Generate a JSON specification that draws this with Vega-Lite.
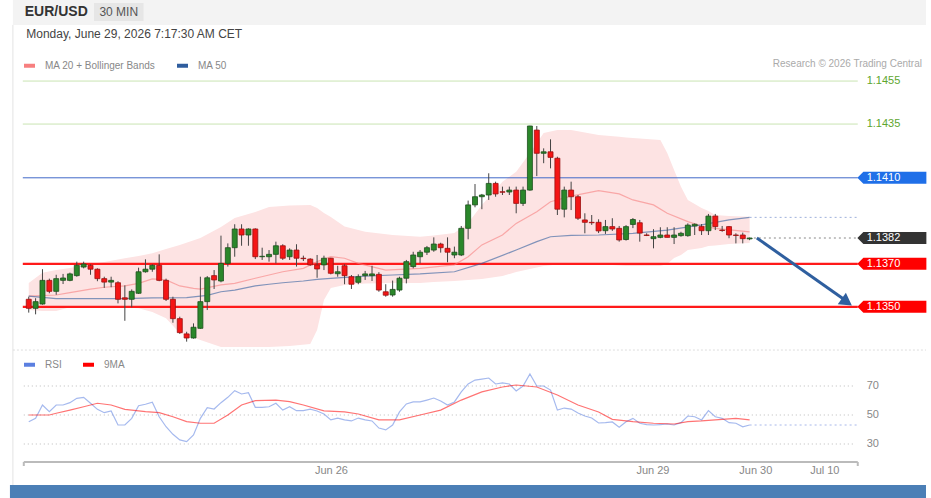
{
"$schema": "https://vega.github.io/schema/vega-lite/v6.json",
"width": 931, "height": 498, "padding": 0, "autosize": {"type": "none"},
"background": "#ffffff",
"config": {"view": {"stroke": null}, "font": "Liberation Sans", "axis": {"disable": true}, "legend": {"padding": 0}},
"datasets": {
"candles": [
{"i":0,"o":1.13535,"h":1.13547,"l":1.13473,"c":1.13493},
{"i":1,"o":1.13493,"h":1.13540,"l":1.13465,"c":1.13524},
{"i":2,"o":1.13513,"h":1.13675,"l":1.13510,"c":1.13623},
{"i":3,"o":1.13623,"h":1.13631,"l":1.13563,"c":1.13572},
{"i":4,"o":1.13572,"h":1.13649,"l":1.13556,"c":1.13631},
{"i":5,"o":1.13623,"h":1.13653,"l":1.13606,"c":1.13634},
{"i":6,"o":1.13623,"h":1.13659,"l":1.13619,"c":1.13653},
{"i":7,"o":1.13645,"h":1.13710,"l":1.13640,"c":1.13693},
{"i":8,"o":1.13685,"h":1.13710,"l":1.13679,"c":1.13699},
{"i":9,"o":1.13693,"h":1.13698,"l":1.13649,"c":1.13675},
{"i":10,"o":1.13675,"h":1.13679,"l":1.13619,"c":1.13631},
{"i":11,"o":1.13631,"h":1.13640,"l":1.13588,"c":1.13615},
{"i":12,"o":1.13615,"h":1.13640,"l":1.13591,"c":1.13623},
{"i":13,"o":1.13612,"h":1.13619,"l":1.13516,"c":1.13535},
{"i":14,"o":1.13542,"h":1.13600,"l":1.13435,"c":1.13535},
{"i":15,"o":1.13535,"h":1.13581,"l":1.13498,"c":1.13572},
{"i":16,"o":1.13563,"h":1.13682,"l":1.13560,"c":1.13663},
{"i":17,"o":1.13663,"h":1.13721,"l":1.13659,"c":1.13675},
{"i":18,"o":1.13675,"h":1.13698,"l":1.13663,"c":1.13693},
{"i":19,"o":1.13693,"h":1.13744,"l":1.13619,"c":1.13623},
{"i":20,"o":1.13623,"h":1.13631,"l":1.13527,"c":1.13535},
{"i":21,"o":1.13535,"h":1.13547,"l":1.13426,"c":1.13445},
{"i":22,"o":1.13445,"h":1.13454,"l":1.13374,"c":1.13380},
{"i":23,"o":1.13374,"h":1.13384,"l":1.13338,"c":1.13355},
{"i":24,"o":1.13355,"h":1.13423,"l":1.13352,"c":1.13405},
{"i":25,"o":1.13400,"h":1.13640,"l":1.13398,"c":1.13524},
{"i":26,"o":1.13524,"h":1.13643,"l":1.13485,"c":1.13635},
{"i":27,"o":1.13645,"h":1.13671,"l":1.13583,"c":1.13625},
{"i":28,"o":1.13620,"h":1.13831,"l":1.13614,"c":1.13702},
{"i":29,"o":1.13702,"h":1.13795,"l":1.13687,"c":1.13775},
{"i":30,"o":1.13775,"h":1.13884,"l":1.13733,"c":1.13862},
{"i":31,"o":1.13862,"h":1.13884,"l":1.13784,"c":1.13834},
{"i":32,"o":1.13834,"h":1.13865,"l":1.13784,"c":1.13862},
{"i":33,"o":1.13862,"h":1.13865,"l":1.13722,"c":1.13733},
{"i":34,"o":1.13733,"h":1.13775,"l":1.13718,"c":1.13735},
{"i":35,"o":1.13733,"h":1.13764,"l":1.13710,"c":1.13744},
{"i":36,"o":1.13744,"h":1.13803,"l":1.13702,"c":1.13784},
{"i":37,"o":1.13784,"h":1.13791,"l":1.13718,"c":1.13726},
{"i":38,"o":1.13733,"h":1.13772,"l":1.13718,"c":1.13764},
{"i":39,"o":1.13764,"h":1.13791,"l":1.13687,"c":1.13726},
{"i":40,"o":1.13726,"h":1.13738,"l":1.13713,"c":1.13724},
{"i":41,"o":1.13722,"h":1.13726,"l":1.13691,"c":1.13695},
{"i":42,"o":1.13695,"h":1.13741,"l":1.13635,"c":1.13676},
{"i":43,"o":1.13695,"h":1.13738,"l":1.13671,"c":1.13726},
{"i":44,"o":1.13726,"h":1.13728,"l":1.13651,"c":1.13656},
{"i":45,"o":1.13654,"h":1.13691,"l":1.13640,"c":1.13663},
{"i":46,"o":1.13691,"h":1.13698,"l":1.13605,"c":1.13645},
{"i":47,"o":1.13640,"h":1.13648,"l":1.13583,"c":1.13605},
{"i":48,"o":1.13614,"h":1.13651,"l":1.13605,"c":1.13640},
{"i":49,"o":1.13645,"h":1.13667,"l":1.13625,"c":1.13653},
{"i":50,"o":1.13645,"h":1.13691,"l":1.13620,"c":1.13653},
{"i":51,"o":1.13651,"h":1.13661,"l":1.13570,"c":1.13578},
{"i":52,"o":1.13570,"h":1.13605,"l":1.13547,"c":1.13554},
{"i":53,"o":1.13555,"h":1.13622,"l":1.13547,"c":1.13581},
{"i":54,"o":1.13578,"h":1.13640,"l":1.13570,"c":1.13633},
{"i":55,"o":1.13633,"h":1.13718,"l":1.13609,"c":1.13710},
{"i":56,"o":1.13687,"h":1.13756,"l":1.13679,"c":1.13741},
{"i":57,"o":1.13733,"h":1.13764,"l":1.13702,"c":1.13754},
{"i":58,"o":1.13754,"h":1.13783,"l":1.13741,"c":1.13775},
{"i":59,"o":1.13764,"h":1.13823,"l":1.13756,"c":1.13792},
{"i":60,"o":1.13792,"h":1.13798,"l":1.13752,"c":1.13775},
{"i":61,"o":1.13772,"h":1.13823,"l":1.13707,"c":1.13754},
{"i":62,"o":1.13741,"h":1.13780,"l":1.13726,"c":1.13754},
{"i":63,"o":1.13741,"h":1.13876,"l":1.13736,"c":1.13865},
{"i":64,"o":1.13865,"h":1.13994,"l":1.13814,"c":1.13974},
{"i":65,"o":1.13974,"h":1.14071,"l":1.13963,"c":1.14012},
{"i":66,"o":1.14012,"h":1.14025,"l":1.13954,"c":1.14020},
{"i":67,"o":1.14020,"h":1.14121,"l":1.13997,"c":1.14074},
{"i":68,"o":1.14074,"h":1.14082,"l":1.14012,"c":1.14025},
{"i":69,"o":1.14035,"h":1.14059,"l":1.14020,"c":1.14033},
{"i":70,"o":1.14034,"h":1.14059,"l":1.14020,"c":1.14043},
{"i":71,"o":1.14043,"h":1.14059,"l":1.13935,"c":1.13981},
{"i":72,"o":1.13981,"h":1.14059,"l":1.13969,"c":1.14043},
{"i":73,"o":1.14043,"h":1.14342,"l":1.14040,"c":1.14341},
{"i":74,"o":1.14322,"h":1.14341,"l":1.14108,"c":1.14214},
{"i":75,"o":1.14214,"h":1.14237,"l":1.14168,"c":1.14221},
{"i":76,"o":1.14221,"h":1.14279,"l":1.14144,"c":1.14195},
{"i":77,"o":1.14191,"h":1.14198,"l":1.13927,"c":1.13954},
{"i":78,"o":1.13954,"h":1.14059,"l":1.13916,"c":1.14043},
{"i":79,"o":1.14043,"h":1.14082,"l":1.13950,"c":1.14012},
{"i":80,"o":1.14012,"h":1.14020,"l":1.13904,"c":1.13912},
{"i":81,"o":1.13904,"h":1.13935,"l":1.13842,"c":1.13893},
{"i":82,"o":1.13893,"h":1.13927,"l":1.13881,"c":1.13891},
{"i":83,"o":1.13893,"h":1.13907,"l":1.13843,"c":1.13853},
{"i":84,"o":1.13854,"h":1.13904,"l":1.13839,"c":1.13873},
{"i":85,"o":1.13873,"h":1.13912,"l":1.13853,"c":1.13862},
{"i":86,"o":1.13865,"h":1.13876,"l":1.13803,"c":1.13811},
{"i":87,"o":1.13813,"h":1.13880,"l":1.13808,"c":1.13873},
{"i":88,"o":1.13883,"h":1.13913,"l":1.13866,"c":1.13906},
{"i":89,"o":1.13891,"h":1.13904,"l":1.13803,"c":1.13843},
{"i":90,"o":1.13834,"h":1.13842,"l":1.13829,"c":1.13832},
{"i":91,"o":1.13817,"h":1.13861,"l":1.13772,"c":1.13826},
{"i":92,"o":1.13823,"h":1.13870,"l":1.13819,"c":1.13834},
{"i":93,"o":1.13834,"h":1.13870,"l":1.13823,"c":1.13823},
{"i":94,"o":1.13823,"h":1.13870,"l":1.13792,"c":1.13834},
{"i":95,"o":1.13831,"h":1.13849,"l":1.13826,"c":1.13842},
{"i":96,"o":1.13831,"h":1.13888,"l":1.13826,"c":1.13880},
{"i":97,"o":1.13876,"h":1.13888,"l":1.13834,"c":1.13884},
{"i":98,"o":1.13873,"h":1.13885,"l":1.13834,"c":1.13854},
{"i":99,"o":1.13854,"h":1.13932,"l":1.13834,"c":1.13922},
{"i":100,"o":1.13922,"h":1.13932,"l":1.13857,"c":1.13873},
{"i":101,"o":1.13857,"h":1.13876,"l":1.13849,"c":1.13855},
{"i":102,"o":1.13873,"h":1.13876,"l":1.13819,"c":1.13834},
{"i":103,"o":1.13834,"h":1.13842,"l":1.13795,"c":1.13832},
{"i":104,"o":1.13834,"h":1.13845,"l":1.13795,"c":1.13817},
{"i":105,"o":1.13816,"h":1.13822,"l":1.13810,"c":1.13820}
],
"band": [
{"i":0,"upper":1.13611,"lower":1.13485},
{"i":2,"upper":1.13659,"lower":1.13481},
{"i":4,"upper":1.13671,"lower":1.13481},
{"i":6,"upper":1.13680,"lower":1.13498},
{"i":9,"upper":1.13699,"lower":1.13499},
{"i":11,"upper":1.13708,"lower":1.13501},
{"i":14,"upper":1.13726,"lower":1.13497},
{"i":16,"upper":1.13736,"lower":1.13493},
{"i":18,"upper":1.13749,"lower":1.13476},
{"i":20,"upper":1.13769,"lower":1.13447},
{"i":22,"upper":1.13788,"lower":1.13377},
{"i":25,"upper":1.13820,"lower":1.13346},
{"i":28,"upper":1.13871,"lower":1.13313},
{"i":30,"upper":1.13913,"lower":1.13313},
{"i":33,"upper":1.13941,"lower":1.13313},
{"i":35,"upper":1.13964,"lower":1.13313},
{"i":38,"upper":1.13971,"lower":1.13318},
{"i":41,"upper":1.13974,"lower":1.13327},
{"i":42,"upper":1.13960,"lower":1.13392},
{"i":43,"upper":1.13936,"lower":1.13532},
{"i":44,"upper":1.13918,"lower":1.13588},
{"i":46,"upper":1.13873,"lower":1.13602},
{"i":49,"upper":1.13849,"lower":1.13608},
{"i":53,"upper":1.13834,"lower":1.13611},
{"i":57,"upper":1.13826,"lower":1.13611},
{"i":59,"upper":1.13832,"lower":1.13615},
{"i":62,"upper":1.13843,"lower":1.13620},
{"i":64,"upper":1.13890,"lower":1.13625},
{"i":66,"upper":1.13974,"lower":1.13629},
{"i":69,"upper":1.14082,"lower":1.13643},
{"i":71,"upper":1.14128,"lower":1.13662},
{"i":73,"upper":1.14215,"lower":1.13676},
{"i":75,"upper":1.14308,"lower":1.13690},
{"i":77,"upper":1.14322,"lower":1.13697},
{"i":79,"upper":1.14322,"lower":1.13704},
{"i":83,"upper":1.14299,"lower":1.13699},
{"i":86,"upper":1.14291,"lower":1.13692},
{"i":87,"upper":1.14287,"lower":1.13690},
{"i":92,"upper":1.14276,"lower":1.13690},
{"i":93,"upper":1.14215,"lower":1.13699},
{"i":94,"upper":1.14136,"lower":1.13727},
{"i":95,"upper":1.14059,"lower":1.13741},
{"i":96,"upper":1.13997,"lower":1.13764},
{"i":98,"upper":1.13960,"lower":1.13774},
{"i":99,"upper":1.13946,"lower":1.13783},
{"i":100,"upper":1.13927,"lower":1.13785},
{"i":102,"upper":1.13922,"lower":1.13792},
{"i":105,"upper":1.13919,"lower":1.13797}
],
"ma": [
{"i":0,"s":"MA 20 + Bollinger Bands","v":1.13550},
{"i":4,"s":"MA 20 + Bollinger Bands","v":1.13555},
{"i":6,"s":"MA 20 + Bollinger Bands","v":1.13566},
{"i":9,"s":"MA 20 + Bollinger Bands","v":1.13582},
{"i":11,"s":"MA 20 + Bollinger Bands","v":1.13591},
{"i":14,"s":"MA 20 + Bollinger Bands","v":1.13597},
{"i":16,"s":"MA 20 + Bollinger Bands","v":1.13609},
{"i":18,"s":"MA 20 + Bollinger Bands","v":1.13630},
{"i":20,"s":"MA 20 + Bollinger Bands","v":1.13625},
{"i":22,"s":"MA 20 + Bollinger Bands","v":1.13597},
{"i":24,"s":"MA 20 + Bollinger Bands","v":1.13586},
{"i":25,"s":"MA 20 + Bollinger Bands","v":1.13582},
{"i":28,"s":"MA 20 + Bollinger Bands","v":1.13602},
{"i":30,"s":"MA 20 + Bollinger Bands","v":1.13609},
{"i":33,"s":"MA 20 + Bollinger Bands","v":1.13633},
{"i":35,"s":"MA 20 + Bollinger Bands","v":1.13648},
{"i":37,"s":"MA 20 + Bollinger Bands","v":1.13663},
{"i":40,"s":"MA 20 + Bollinger Bands","v":1.13679},
{"i":42,"s":"MA 20 + Bollinger Bands","v":1.13710},
{"i":44,"s":"MA 20 + Bollinger Bands","v":1.13733},
{"i":46,"s":"MA 20 + Bollinger Bands","v":1.13726},
{"i":48,"s":"MA 20 + Bollinger Bands","v":1.13702},
{"i":52,"s":"MA 20 + Bollinger Bands","v":1.13671},
{"i":57,"s":"MA 20 + Bollinger Bands","v":1.13679},
{"i":62,"s":"MA 20 + Bollinger Bands","v":1.13695},
{"i":64,"s":"MA 20 + Bollinger Bands","v":1.13733},
{"i":66,"s":"MA 20 + Bollinger Bands","v":1.13788},
{"i":69,"s":"MA 20 + Bollinger Bands","v":1.13834},
{"i":71,"s":"MA 20 + Bollinger Bands","v":1.13888},
{"i":74,"s":"MA 20 + Bollinger Bands","v":1.13942},
{"i":76,"s":"MA 20 + Bollinger Bands","v":1.13989},
{"i":79,"s":"MA 20 + Bollinger Bands","v":1.14015},
{"i":83,"s":"MA 20 + Bollinger Bands","v":1.14040},
{"i":86,"s":"MA 20 + Bollinger Bands","v":1.14025},
{"i":88,"s":"MA 20 + Bollinger Bands","v":1.13997},
{"i":91,"s":"MA 20 + Bollinger Bands","v":1.13974},
{"i":93,"s":"MA 20 + Bollinger Bands","v":1.13935},
{"i":96,"s":"MA 20 + Bollinger Bands","v":1.13896},
{"i":98,"s":"MA 20 + Bollinger Bands","v":1.13876},
{"i":100,"s":"MA 20 + Bollinger Bands","v":1.13865},
{"i":105,"s":"MA 20 + Bollinger Bands","v":1.13849},
{"i":0,"s":"MA 50","v":1.13550},
{"i":4,"s":"MA 50","v":1.13538},
{"i":14,"s":"MA 50","v":1.13538},
{"i":18,"s":"MA 50","v":1.13542},
{"i":23,"s":"MA 50","v":1.13543},
{"i":26,"s":"MA 50","v":1.13553},
{"i":28,"s":"MA 50","v":1.13570},
{"i":30,"s":"MA 50","v":1.13578},
{"i":33,"s":"MA 50","v":1.13597},
{"i":35,"s":"MA 50","v":1.13605},
{"i":37,"s":"MA 50","v":1.13612},
{"i":40,"s":"MA 50","v":1.13620},
{"i":42,"s":"MA 50","v":1.13628},
{"i":45,"s":"MA 50","v":1.13635},
{"i":49,"s":"MA 50","v":1.13643},
{"i":53,"s":"MA 50","v":1.13648},
{"i":57,"s":"MA 50","v":1.13653},
{"i":62,"s":"MA 50","v":1.13663},
{"i":66,"s":"MA 50","v":1.13702},
{"i":71,"s":"MA 50","v":1.13764},
{"i":74,"s":"MA 50","v":1.13803},
{"i":76,"s":"MA 50","v":1.13826},
{"i":79,"s":"MA 50","v":1.13832},
{"i":83,"s":"MA 50","v":1.13834},
{"i":88,"s":"MA 50","v":1.13842},
{"i":93,"s":"MA 50","v":1.13857},
{"i":98,"s":"MA 50","v":1.13881},
{"i":102,"s":"MA 50","v":1.13904},
{"i":105,"s":"MA 50","v":1.13916}
],
"levels": [
{"level":1.1455,"kind":"resistance"},
{"level":1.1435,"kind":"resistance"},
{"level":1.1410,"kind":"pivot"},
{"level":1.1382,"kind":"last"},
{"level":1.1370,"kind":"support"},
{"level":1.1350,"kind":"support"}
],
"rsi": [
{"i":0,"s":"RSI","v":45.4},{"i":1,"s":"RSI","v":47.7},{"i":2,"s":"RSI","v":56.9},{"i":3,"s":"RSI","v":52.3},
{"i":4,"s":"RSI","v":56.9},{"i":5,"s":"RSI","v":56.9},{"i":6,"s":"RSI","v":58.5},{"i":7,"s":"RSI","v":61.5},
{"i":8,"s":"RSI","v":62.2},{"i":9,"s":"RSI","v":58.1},{"i":10,"s":"RSI","v":53.9},{"i":11,"s":"RSI","v":51.6},
{"i":12,"s":"RSI","v":52.8},{"i":13,"s":"RSI","v":43.1},{"i":14,"s":"RSI","v":43.1},{"i":15,"s":"RSI","v":47.7},
{"i":16,"s":"RSI","v":56.4},{"i":17,"s":"RSI","v":57.4},{"i":18,"s":"RSI","v":58.8},{"i":19,"s":"RSI","v":48.8},
{"i":20,"s":"RSI","v":41.9},{"i":21,"s":"RSI","v":36.7},{"i":22,"s":"RSI","v":32.8},{"i":23,"s":"RSI","v":31.6},
{"i":24,"s":"RSI","v":36.2},{"i":25,"s":"RSI","v":47.7},{"i":26,"s":"RSI","v":55.0},{"i":27,"s":"RSI","v":54.1},
{"i":28,"s":"RSI","v":58.5},{"i":29,"s":"RSI","v":62.2},{"i":30,"s":"RSI","v":66.8},{"i":31,"s":"RSI","v":64.5},
{"i":32,"s":"RSI","v":65.4},{"i":33,"s":"RSI","v":55.3},{"i":34,"s":"RSI","v":55.3},{"i":35,"s":"RSI","v":55.7},
{"i":36,"s":"RSI","v":58.1},{"i":37,"s":"RSI","v":53.4},{"i":38,"s":"RSI","v":55.7},{"i":39,"s":"RSI","v":53.0},
{"i":40,"s":"RSI","v":53.0},{"i":41,"s":"RSI","v":54.1},{"i":42,"s":"RSI","v":52.8},{"i":43,"s":"RSI","v":50.7},
{"i":44,"s":"RSI","v":46.6},{"i":45,"s":"RSI","v":47.9},{"i":46,"s":"RSI","v":46.6},{"i":47,"s":"RSI","v":45.9},
{"i":48,"s":"RSI","v":47.9},{"i":49,"s":"RSI","v":46.6},{"i":50,"s":"RSI","v":45.9},{"i":51,"s":"RSI","v":41.0},
{"i":52,"s":"RSI","v":39.7},{"i":53,"s":"RSI","v":43.1},{"i":54,"s":"RSI","v":52.1},{"i":55,"s":"RSI","v":57.6},
{"i":56,"s":"RSI","v":59.0},{"i":57,"s":"RSI","v":59.0},{"i":58,"s":"RSI","v":60.3},{"i":59,"s":"RSI","v":61.7},
{"i":60,"s":"RSI","v":59.7},{"i":61,"s":"RSI","v":56.9},{"i":62,"s":"RSI","v":59.0},{"i":63,"s":"RSI","v":65.9},
{"i":64,"s":"RSI","v":71.4},{"i":65,"s":"RSI","v":74.1},{"i":66,"s":"RSI","v":74.8},{"i":67,"s":"RSI","v":75.5},
{"i":68,"s":"RSI","v":71.4},{"i":69,"s":"RSI","v":72.1},{"i":70,"s":"RSI","v":71.4},{"i":71,"s":"RSI","v":66.6},
{"i":72,"s":"RSI","v":70.0},{"i":73,"s":"RSI","v":78.3},{"i":74,"s":"RSI","v":70.0},{"i":75,"s":"RSI","v":70.0},
{"i":76,"s":"RSI","v":67.2},{"i":77,"s":"RSI","v":53.4},{"i":78,"s":"RSI","v":54.8},{"i":79,"s":"RSI","v":54.1},
{"i":80,"s":"RSI","v":51.4},{"i":81,"s":"RSI","v":49.3},{"i":82,"s":"RSI","v":47.9},{"i":83,"s":"RSI","v":44.5},
{"i":84,"s":"RSI","v":44.7},{"i":85,"s":"RSI","v":45.2},{"i":86,"s":"RSI","v":41.5},{"i":87,"s":"RSI","v":45.4},
{"i":88,"s":"RSI","v":47.7},{"i":89,"s":"RSI","v":44.3},{"i":90,"s":"RSI","v":43.4},{"i":91,"s":"RSI","v":43.1},
{"i":92,"s":"RSI","v":43.4},{"i":93,"s":"RSI","v":43.8},{"i":94,"s":"RSI","v":43.1},{"i":95,"s":"RSI","v":44.7},
{"i":96,"s":"RSI","v":49.3},{"i":97,"s":"RSI","v":48.8},{"i":98,"s":"RSI","v":46.6},{"i":99,"s":"RSI","v":53.0},
{"i":100,"s":"RSI","v":48.8},{"i":101,"s":"RSI","v":47.7},{"i":102,"s":"RSI","v":44.7},{"i":103,"s":"RSI","v":44.3},
{"i":104,"s":"RSI","v":41.9},{"i":105,"s":"RSI","v":43.1},
{"i":0,"s":"9MA","v":50.0},{"i":3,"s":"9MA","v":50.0},{"i":4,"s":"9MA","v":51.2},{"i":6,"s":"9MA","v":53.4},
{"i":8,"s":"9MA","v":55.7},{"i":10,"s":"9MA","v":58.1},{"i":12,"s":"9MA","v":56.9},{"i":14,"s":"9MA","v":53.9},
{"i":17,"s":"9MA","v":52.3},{"i":19,"s":"9MA","v":51.6},{"i":21,"s":"9MA","v":48.8},{"i":23,"s":"9MA","v":45.4},
{"i":25,"s":"9MA","v":44.3},{"i":27,"s":"9MA","v":44.3},{"i":29,"s":"9MA","v":50.0},{"i":31,"s":"9MA","v":56.9},
{"i":33,"s":"9MA","v":59.9},{"i":36,"s":"9MA","v":60.3},{"i":38,"s":"9MA","v":59.2},{"i":40,"s":"9MA","v":56.9},
{"i":43,"s":"9MA","v":52.8},{"i":46,"s":"9MA","v":52.1},{"i":48,"s":"9MA","v":50.7},{"i":51,"s":"9MA","v":46.6},
{"i":54,"s":"9MA","v":46.6},{"i":57,"s":"9MA","v":50.0},{"i":60,"s":"9MA","v":53.4},{"i":63,"s":"9MA","v":60.3},
{"i":66,"s":"9MA","v":65.9},{"i":69,"s":"9MA","v":69.3},{"i":71,"s":"9MA","v":70.7},{"i":74,"s":"9MA","v":69.3},
{"i":77,"s":"9MA","v":63.8},{"i":80,"s":"9MA","v":56.9},{"i":83,"s":"9MA","v":52.1},{"i":85,"s":"9MA","v":47.0},
{"i":88,"s":"9MA","v":45.4},{"i":91,"s":"9MA","v":44.3},{"i":94,"s":"9MA","v":43.8},{"i":96,"s":"9MA","v":45.4},
{"i":98,"s":"9MA","v":45.9},{"i":101,"s":"9MA","v":47.0},{"i":103,"s":"9MA","v":47.7},{"i":105,"s":"9MA","v":46.6}
],
"dates": [
{"i":44.09,"label":"Jun 26"},
{"i":90.92,"label":"Jun 29"},
{"i":105.9,"label":"Jun 30"},
{"i":115.95,"label":"Jul 10"}
],
"grid": [{"v":70},{"v":50},{"v":30}]
},
"layer": [
{
"layer": [
{"data": {"values": [{}]}, "mark": {"type": "rect", "color": "#f3f3f3"},
 "encoding": {"x": {"datum": -2.305, "type": "quantitative", "scale": {"domain": [-3.458, 130.69], "nice": false, "zero": false}, "axis": null}, "x2": {"datum": 130.69},
  "y": {"datum": 1.14927, "type": "quantitative", "scale": {"domain": [1.126108, 1.14927], "nice": false, "zero": false}, "axis": null}, "y2": {"datum": 1.14811}}},
{"data": {"values": [{}]}, "mark": {"type": "rect", "color": "#e6e6e6"},
 "encoding": {"x": {"datum": 9.51, "type": "quantitative"}, "x2": {"datum": 16.71}, "y": {"datum": 1.14913, "type": "quantitative"}, "y2": {"datum": 1.14829}}},
{"data": {"values": [{"t": "EUR/USD"}]}, "mark": {"type": "text", "fontSize": 14, "fontWeight": "bold", "color": "#333333", "align": "left", "baseline": "middle"},
 "encoding": {"x": {"datum": -0.576, "type": "quantitative"}, "y": {"datum": 1.14871, "type": "quantitative"}, "text": {"field": "t"}}},
{"data": {"values": [{"t": "30 MIN"}]}, "mark": {"type": "text", "fontSize": 12, "color": "#555555", "align": "center", "baseline": "middle"},
 "encoding": {"x": {"datum": 13.11, "type": "quantitative"}, "y": {"datum": 1.14871, "type": "quantitative"}, "text": {"field": "t"}}},
{"data": {"values": [{"t": "Monday, June 29, 2026 7:17:30 AM CET"}]}, "mark": {"type": "text", "fontSize": 12, "color": "#444444", "align": "left", "baseline": "middle"},
 "encoding": {"x": {"datum": -0.36, "type": "quantitative"}, "y": {"datum": 1.14769, "type": "quantitative"}, "text": {"field": "t"}}},
{"data": {"values": [{"t": "Research © 2026 Trading Central"}]}, "mark": {"type": "text", "fontSize": 10, "color": "#aaaaaa", "align": "right", "baseline": "middle"},
 "encoding": {"x": {"datum": 130.1, "type": "quantitative"}, "y": {"datum": 1.14629, "type": "quantitative"}, "text": {"field": "t"}}},
{"data": {"values": [{}]}, "mark": {"type": "rule", "color": "#e3e3e3", "strokeWidth": 1},
 "encoding": {"x": {"datum": -2.305, "type": "quantitative"}, "y": {"datum": 1.14811, "type": "quantitative"}, "y2": {"datum": 1.126713}}},
{"data": {"values": [{}]}, "mark": {"type": "rule", "color": "#dddddd", "strokeWidth": 1, "strokeDash": [2, 2]},
 "encoding": {"x": {"datum": -2.305, "type": "quantitative"}, "x2": {"datum": 130.69}, "y": {"datum": 1.13299, "type": "quantitative"}}},
{"data": {"values": [{}]}, "mark": {"type": "rect", "color": "#4b7fb6"},
 "encoding": {"x": {"datum": -2.738, "type": "quantitative"}, "x2": {"datum": 130.69}, "y": {"datum": 1.126713, "type": "quantitative"}, "y2": {"datum": 1.126108}}},
{"data": {"name": "band"}, "mark": {"type": "area", "color": "#fde3e3", "opacity": 1},
 "encoding": {"x": {"field": "i", "type": "quantitative"}, "y": {"field": "upper", "type": "quantitative"}, "y2": {"field": "lower"}}},
{"data": {"name": "levels"}, "transform": [{"filter": "datum.kind != 'last'"}],
 "mark": {"type": "rule"},
 "encoding": {"x": {"datum": -0.865, "type": "quantitative"}, "x2": {"datum": 120.75}, "y": {"field": "level", "type": "quantitative"},
  "color": {"condition": [{"test": "datum.kind == 'resistance'", "value": "#c9e4b2"}, {"test": "datum.kind == 'pivot'", "value": "#4169c8"}], "value": "#ff1a1a"},
  "strokeWidth": {"condition": {"test": "datum.kind == 'support'", "value": 2.2}, "value": 1}}},
{"data": {"name": "ma"}, "mark": {"type": "line", "strokeWidth": 1.2, "strokeOpacity": 0.6},
 "encoding": {"x": {"field": "i", "type": "quantitative"}, "y": {"field": "v", "type": "quantitative"},
  "color": {"field": "s", "type": "nominal", "scale": {"domain": ["MA 20 + Bollinger Bands", "MA 50"], "range": ["#f77f7f", "#2f5d9e"]},
   "legend": {"orient": "none", "legendX": 22, "legendY": 58, "direction": "horizontal", "title": null, "symbolType": "stroke", "symbolStrokeWidth": 4, "symbolSize": 121, "symbolOpacity": 1, "labelFontSize": 10, "labelColor": "#888888", "labelOffset": 8, "columnPadding": 13}}}},
{"data": {"name": "candles"}, "mark": {"type": "rule", "color": "#444444", "strokeWidth": 1},
 "encoding": {"x": {"field": "i", "type": "quantitative"}, "y": {"field": "l", "type": "quantitative"}, "y2": {"field": "h"}}},
{"data": {"name": "candles"}, "mark": {"type": "bar", "width": 5, "strokeWidth": 0.8},
 "encoding": {"x": {"field": "i", "type": "quantitative"}, "y": {"field": "o", "type": "quantitative"}, "y2": {"field": "c"},
  "fill": {"condition": {"test": "datum.c >= datum.o", "value": "#2a872a"}, "value": "#f41515"},
  "stroke": {"condition": {"test": "datum.c >= datum.o", "value": "#1d4f1d"}, "value": "#9a1010"}}},
{"data": {"values": [{}]}, "mark": {"type": "rule", "color": "#9fb1dc", "strokeWidth": 1, "strokeDash": [2, 3]},
 "encoding": {"x": {"datum": 105, "type": "quantitative"}, "x2": {"datum": 120.75}, "y": {"datum": 1.13916, "type": "quantitative"}}},
{"data": {"name": "levels"}, "transform": [{"filter": "datum.kind == 'last'"}], "mark": {"type": "rule", "color": "#888888", "strokeWidth": 1, "strokeDash": [2, 3]},
 "encoding": {"x": {"datum": 105.62, "type": "quantitative"}, "x2": {"datum": 120.75}, "y": {"field": "level", "type": "quantitative"}}},
{"data": {"values": [{}]}, "mark": {"type": "rule", "color": "#2f5f9f", "strokeWidth": 3},
 "encoding": {"x": {"datum": 106.05, "type": "quantitative"}, "x2": {"datum": 118.88}, "y": {"datum": 1.138201, "type": "quantitative"}, "y2": {"datum": 1.135317}}},
{"data": {"values": [{}]}, "mark": {"type": "point", "shape": "triangle-right", "angle": 35, "size": 200, "filled": true, "color": "#2f5f9f", "opacity": 1},
 "encoding": {"x": {"datum": 119.16, "type": "quantitative"}, "y": {"datum": 1.135224, "type": "quantitative"}}},
{"data": {"name": "levels"}, "transform": [{"filter": "datum.kind != 'resistance'"}],
 "mark": {"type": "point", "shape": "M-1,0L-0.826,-0.174L1,-0.174L1,0.174L-0.826,0.174Z", "size": 4761, "filled": true, "opacity": 1, "strokeWidth": 0},
 "encoding": {"x": {"datum": 125.72, "type": "quantitative"}, "y": {"field": "level", "type": "quantitative"},
  "fill": {"condition": [{"test": "datum.kind == 'pivot'", "value": "#1f6fe8"}, {"test": "datum.kind == 'last'", "value": "#333333"}], "value": "#ff0000"}}},
{"data": {"name": "levels"}, "mark": {"type": "text", "fontSize": 11, "align": "left", "baseline": "middle"},
 "encoding": {"x": {"datum": 122.05, "type": "quantitative"}, "y": {"field": "level", "type": "quantitative"},
  "text": {"field": "level", "type": "quantitative", "format": ".4f"},
  "color": {"condition": {"test": "datum.kind == 'resistance'", "value": "#5ea62e"}, "value": "#ffffff"}}}
]
},
{
"layer": [
{"data": {"name": "grid"}, "mark": {"type": "rule", "color": "#bbbbbb", "strokeWidth": 1, "strokeDash": [1, 3]},
 "encoding": {"x": {"datum": -0.72, "type": "quantitative"}, "x2": {"datum": 120.32},
  "y": {"field": "v", "type": "quantitative", "scale": {"domain": [-7.24, 336.21], "nice": false, "zero": false}, "axis": null}}},
{"data": {"name": "grid"}, "mark": {"type": "text", "fontSize": 11, "color": "#888888", "align": "left", "baseline": "middle"},
 "encoding": {"x": {"datum": 122.05, "type": "quantitative"}, "y": {"field": "v", "type": "quantitative"}, "text": {"field": "v"}}},
{"data": {"values": [{}]}, "mark": {"type": "rule", "color": "#a8b8ea", "strokeWidth": 1, "strokeDash": [2, 3]},
 "encoding": {"x": {"datum": 105, "type": "quantitative"}, "x2": {"datum": 120.75}, "y": {"datum": 43.1, "type": "quantitative"}}},
{"data": {"name": "rsi"}, "mark": {"type": "line", "strokeWidth": 1.2, "strokeOpacity": 0.55},
 "encoding": {"x": {"field": "i", "type": "quantitative"}, "y": {"field": "v", "type": "quantitative"},
  "stroke": {"field": "s", "type": "nominal", "scale": {"domain": ["RSI", "9MA"], "range": ["#5b7fe0", "#ff0000"]},
   "legend": {"orient": "none", "legendX": 22, "legendY": 357, "direction": "horizontal", "title": null, "symbolType": "stroke", "symbolStrokeWidth": 4, "symbolSize": 121, "symbolOpacity": 1, "labelFontSize": 10, "labelColor": "#888888", "labelOffset": 8, "columnPadding": 13}}}},
{"data": {"values": [{}]}, "mark": {"type": "rule", "color": "#bbbbbb", "strokeWidth": 2},
 "encoding": {"x": {"datum": -0.72, "type": "quantitative"}, "x2": {"datum": 120.75}, "y": {"datum": 17.59, "type": "quantitative"}}},
{"data": {"values": [{}]}, "mark": {"type": "rule", "color": "#bbbbbb", "strokeWidth": 2},
 "encoding": {"x": {"datum": -0.72, "type": "quantitative"}, "y": {"datum": 17.59, "type": "quantitative"}, "y2": {"datum": 14.83}}},
{"data": {"values": [{}]}, "mark": {"type": "rule", "color": "#bbbbbb", "strokeWidth": 2},
 "encoding": {"x": {"datum": 120.75, "type": "quantitative"}, "y": {"datum": 17.59, "type": "quantitative"}, "y2": {"datum": 14.83}}},
{"data": {"name": "dates"}, "mark": {"type": "text", "fontSize": 11, "color": "#888888", "align": "center", "baseline": "middle"},
 "encoding": {"x": {"field": "i", "type": "quantitative"}, "y": {"datum": 11.38, "type": "quantitative"}, "text": {"field": "label"}}}
]
}
],
"resolve": {"scale": {"y": "independent"}}
}
